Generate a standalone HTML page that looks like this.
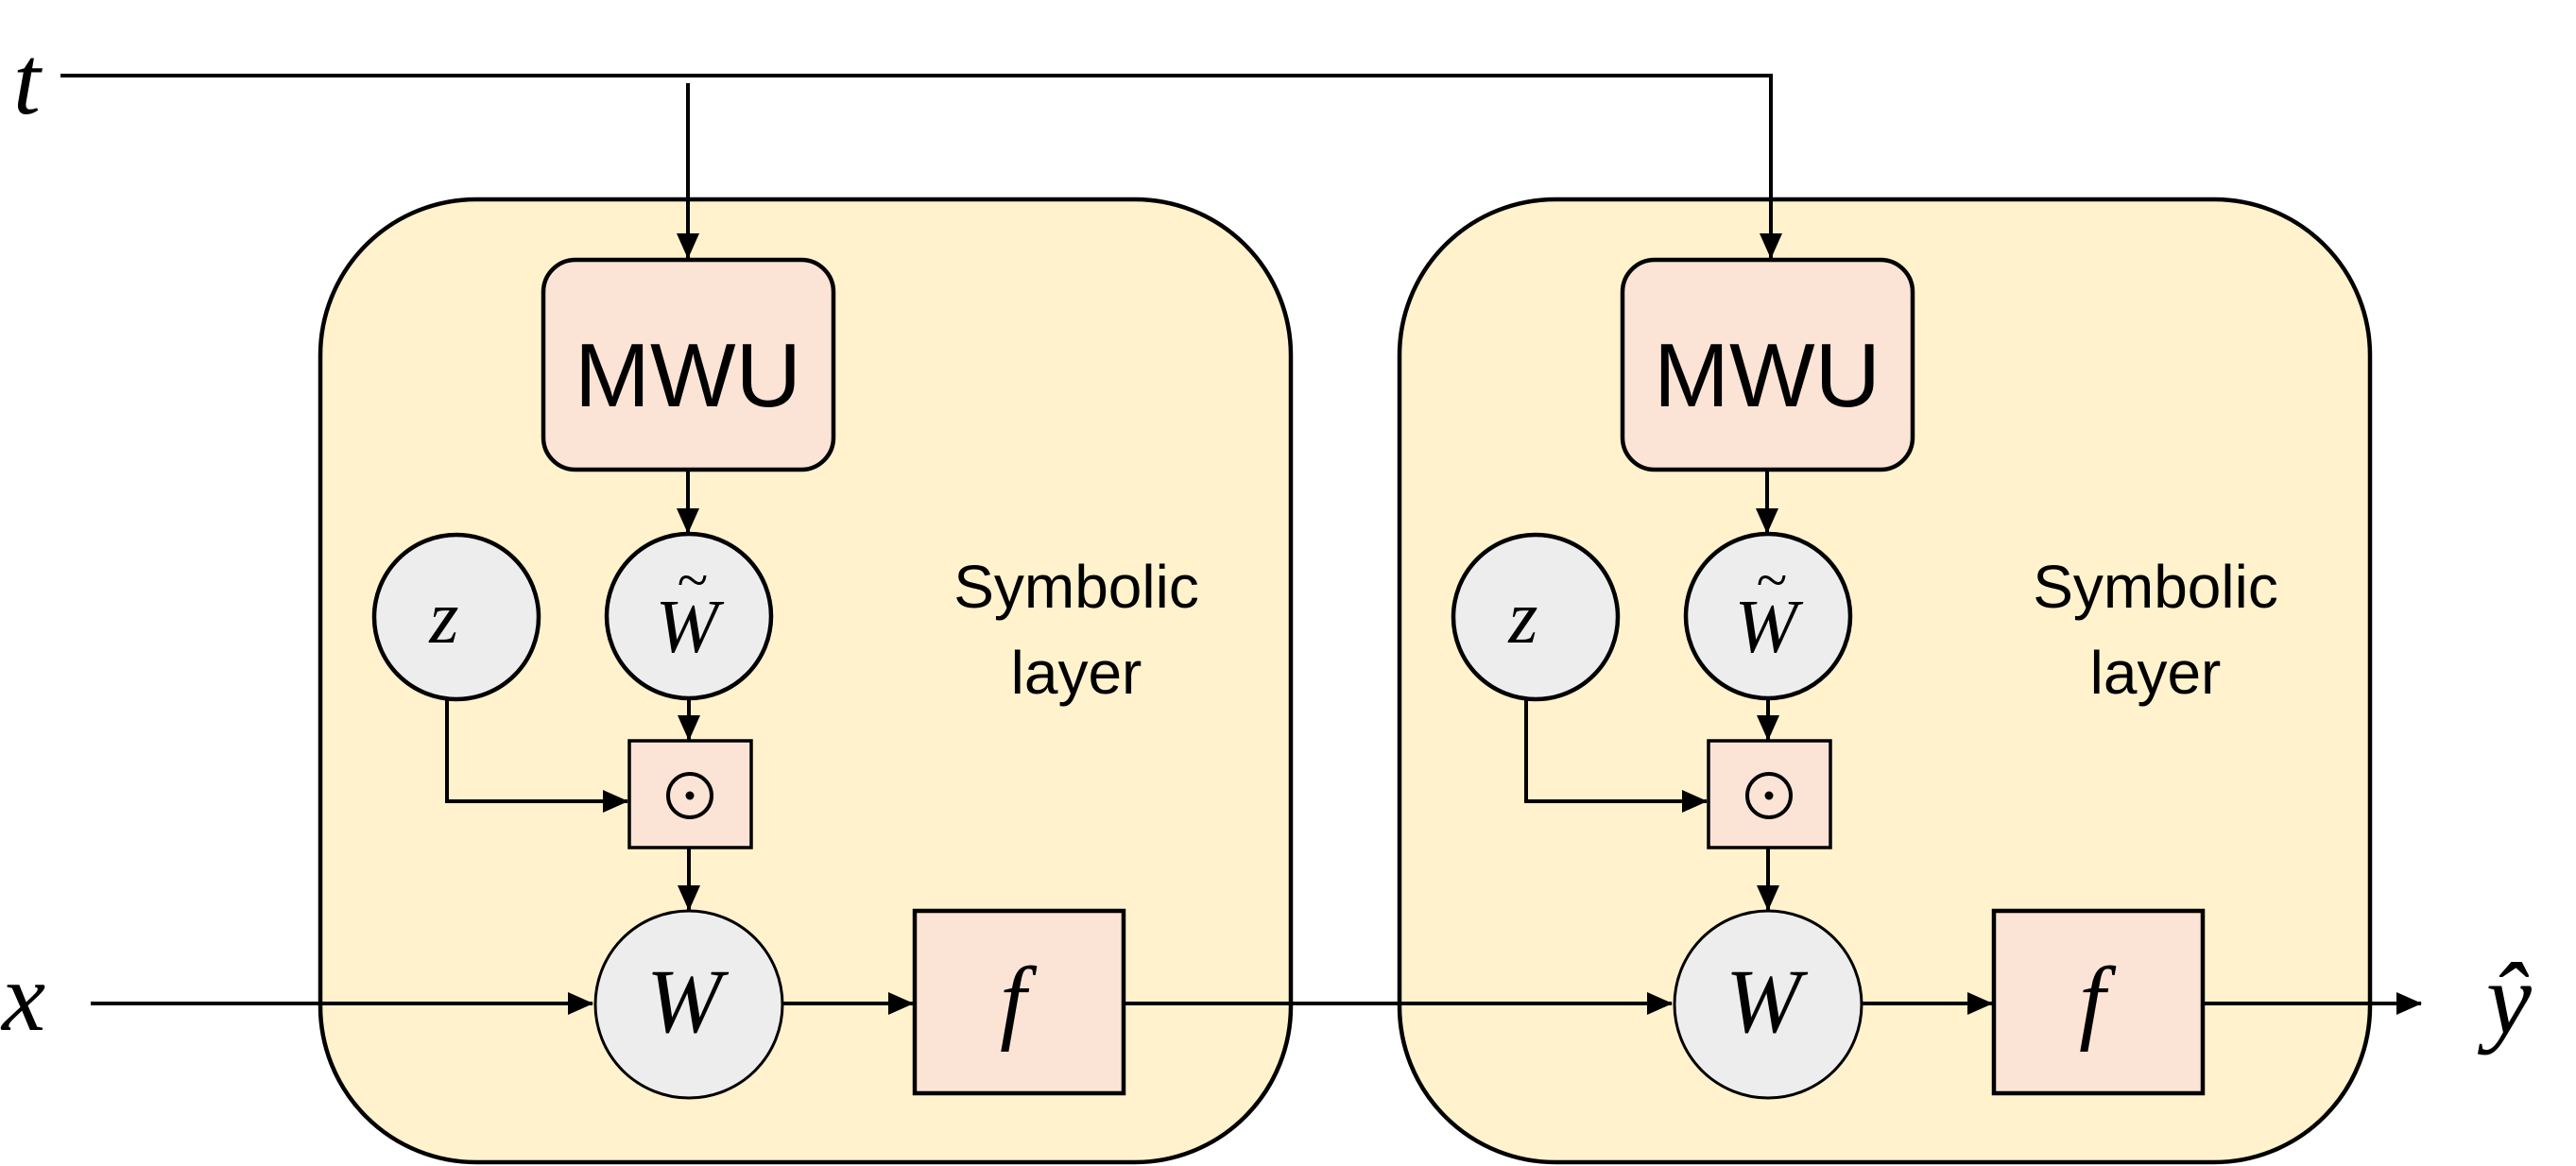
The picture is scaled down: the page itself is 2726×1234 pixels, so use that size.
<!DOCTYPE html>
<html><head><meta charset="utf-8"><style>html,body{margin:0;padding:0;background:#fff}svg{display:block}</style></head>
<body>
<svg width="2726" height="1234" viewBox="0 0 2726 1234" xmlns="http://www.w3.org/2000/svg">
<defs>
<marker id="a" markerWidth="28" markerHeight="28" refX="26" refY="14" orient="auto" markerUnits="userSpaceOnUse">
<path d="M0,2 L27,14 L0,26 z" fill="#000"/>
</marker>
<g id="layer">
<rect x="339" y="211" width="1027" height="1019" rx="165" ry="165" fill="#fff2cc" stroke="#000" stroke-width="4.5"/>
<rect x="575" y="275" width="307" height="222" rx="34" fill="#fbe4d6" stroke="#000" stroke-width="4.5"/>
<text x="728" y="430" font-family="Liberation Sans, sans-serif" font-size="96" text-anchor="middle">MWU</text>
<line x1="728" y1="499" x2="728" y2="564" stroke="#000" stroke-width="4" marker-end="url(#a)"/>
<circle cx="483" cy="653" r="87" fill="#ededed" stroke="#000" stroke-width="4.5"/>
<text x="470" y="680" font-family="Liberation Serif, serif" font-style="italic" font-size="80" text-anchor="middle">z</text>
<circle cx="729" cy="652" r="87" fill="#ededed" stroke="#000" stroke-width="4.5"/>
<text x="727" y="690" font-family="Liberation Serif, serif" font-style="italic" font-size="80" text-anchor="middle">W</text>
<text x="733" y="634" font-family="Liberation Serif, serif" font-size="60" text-anchor="middle">~</text>
<line x1="729" y1="741" x2="729" y2="783" stroke="#000" stroke-width="4" marker-end="url(#a)"/>
<polyline points="473,740 473,848 664,848" fill="none" stroke="#000" stroke-width="4" marker-end="url(#a)"/>
<rect x="666" y="784" width="129" height="113" fill="#fbe4d6" stroke="#000" stroke-width="3.5"/>
<circle cx="730" cy="842" r="23" fill="none" stroke="#000" stroke-width="4"/>
<circle cx="730" cy="842" r="4.5" fill="#000"/>
<line x1="729" y1="898" x2="729" y2="963" stroke="#000" stroke-width="4" marker-end="url(#a)"/>
<circle cx="729" cy="1063" r="99" fill="#ededed" stroke="#000" stroke-width="3"/>
<text x="724" y="1092" font-family="Liberation Serif, serif" font-style="italic" font-size="96" text-anchor="middle">W</text>
<line x1="829" y1="1062" x2="966" y2="1062" stroke="#000" stroke-width="4" marker-end="url(#a)"/>
<rect x="968" y="964" width="221" height="193" fill="#fbe4d6" stroke="#000" stroke-width="4.5"/>
<text x="1072" y="1092" font-family="Liberation Serif, serif" font-style="italic" font-size="100" text-anchor="middle">f</text>
<text x="1139" y="643" font-family="Liberation Sans, sans-serif" font-size="64" text-anchor="middle">Symbolic</text>
<text x="1139" y="734" font-family="Liberation Sans, sans-serif" font-size="64" text-anchor="middle">layer</text>
</g>
</defs>
<use href="#layer"/>
<use href="#layer" transform="translate(1142,0)"/>
<text x="14" y="120" font-family="Liberation Serif, serif" font-style="italic" font-size="104">t</text>
<polyline points="64,80 1874,80 1874,273" fill="none" stroke="#000" stroke-width="4" marker-end="url(#a)"/>
<line x1="728" y1="88" x2="728" y2="273" stroke="#000" stroke-width="4" marker-end="url(#a)"/>
<text x="2" y="1090" font-family="Liberation Serif, serif" font-style="italic" font-size="104">x</text>
<line x1="96" y1="1062" x2="627" y2="1062" stroke="#000" stroke-width="4" marker-end="url(#a)"/>
<line x1="1189" y1="1062" x2="1769" y2="1062" stroke="#000" stroke-width="4" marker-end="url(#a)"/>
<line x1="2331" y1="1062" x2="2562" y2="1062" stroke="#000" stroke-width="4" marker-end="url(#a)"/>
<text x="2655" y="1093" font-family="Liberation Serif, serif" font-style="italic" font-size="108" text-anchor="middle">ŷ</text>
</svg>
</body></html>
